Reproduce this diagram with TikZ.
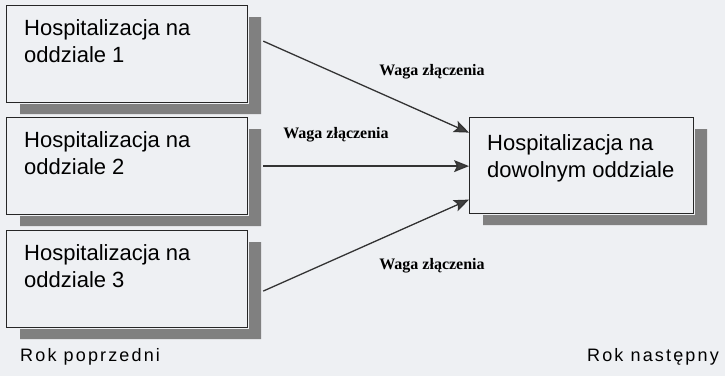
\documentclass[tikz,border=0pt]{standalone}
\usepackage{fontspec}
\setmainfont{Liberation Sans}
\newfontfamily\tms{Liberation Serif}
\usepackage{tikz}
\usetikzlibrary{arrows.meta,calc}

\definecolor{tlo}{RGB}{238,240,243}
\colorlet{cien}{black!50}
\tikzset{
  box/.style={draw=black!85, line width=1.2pt, fill=tlo, anchor=north west,
    inner sep=0pt, minimum width=241pt, minimum height=97pt},
  napis/.style={anchor=north west, inner sep=0pt, align=left,
    font=\fontsize{22}{27}\selectfont},
  waga/.style={inner sep=1pt, font=\tms\bfseries\fontsize{16}{18}\selectfont},
  rok/.style={inner sep=0pt, font=\fontsize{18}{20}\selectfont\addfontfeature{LetterSpace=12}},
  strz/.style={draw=black!80, line width=1.3pt,
    -{Stealth[length=15pt,width=12pt,inset=3pt,fill=black!75]}}
}

\begin{document}
\begin{tikzpicture}[x=1pt,y=-1pt]
\useasboundingbox (0,0) rectangle (725,376);
\fill[tlo] (0,0) rectangle (725,376);
% oddzialy w roku poprzednim
\node[box] (o1) at (6,5) {};
\node[box] (o2) at (6,117) {};
\node[box] (o3) at (6,230) {};
\node[box, minimum width=224pt, minimum height=96pt] (cel) at (469,117) {};
% cienie
\foreach \b in {o1,o2,o3,cel}
  \fill[cien] ($(\b.south west)+(14,1)$) -- ($(\b.south west)+(14,11)$)
    -- ($(\b.south east)+(13,11)$) -- ($(\b.north east)+(13,12)$)
    -- ($(\b.north east)+(1,12)$) -- ($(\b.south east)+(1,1)$) -- cycle;
\node[napis] (t1) at (24,19) {Hospitalizacja na\\oddziale 1};
\node[napis] (t2) at (24,131) {Hospitalizacja na\\oddziale 2};
\node[napis] (t3) at (24,244) {Hospitalizacja na\\oddziale 3};
\node[napis] (tc) at (487,134) {Hospitalizacja na\\dowolnym oddziale};
% polaczenia
\draw[strz] ([xshift=15pt,yshift=13pt]o1.east) -- ([yshift=33pt]cel.west);
\draw[strz] ([xshift=15pt]o2.east) -- (cel.west |- o2.east);
\draw[strz] ([xshift=15pt,yshift=-12pt]o3.east) -- ([yshift=-34pt]cel.west);
\node[waga] (w1) at (432,72) {Waga złączenia};
\node[waga] (w2) at (336,135) {Waga złączenia};
\node[waga] (w3) at (432,266) {Waga złączenia};
% lata
\node[rok, anchor=west] (r1) at (20,357) {Rok poprzedni};
\node[rok, anchor=east] (r2) at (719,357) {Rok następny};
\end{tikzpicture}
\end{document}
